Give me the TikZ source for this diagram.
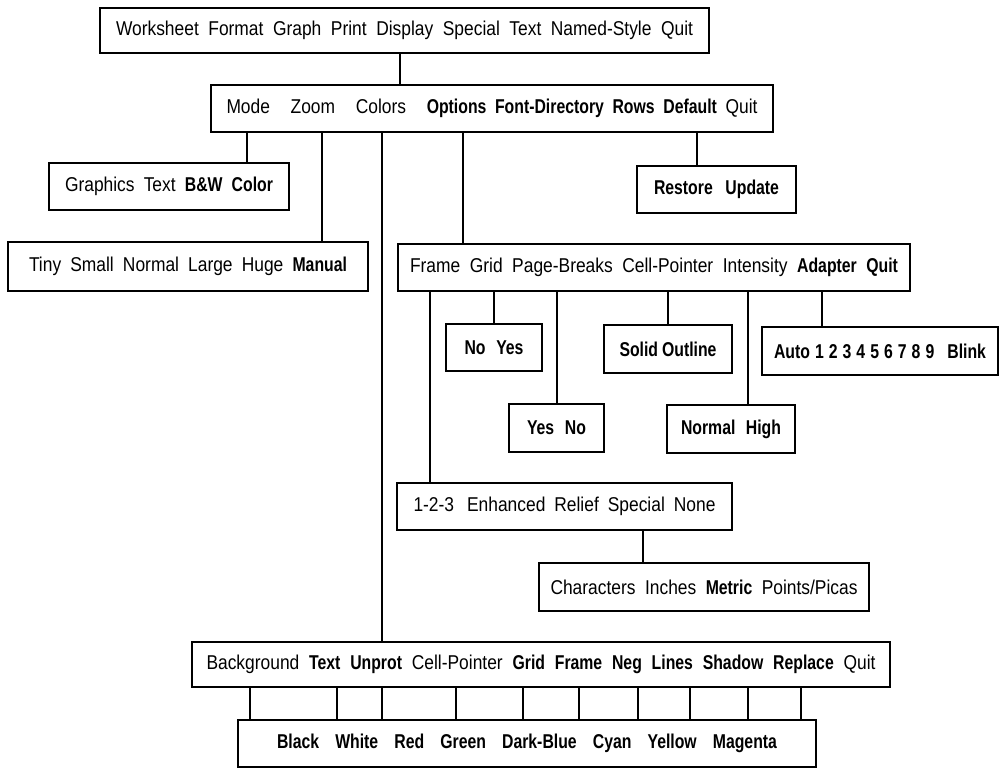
\documentclass[tikz,border=0pt]{standalone}
\usepackage{fontspec}
\setmainfont{Liberation Sans}[FakeStretch=0.87]
\newfontfamily\bfam{Liberation Sans}[FakeStretch=0.79]
\newcommand\B[1]{{\bfam\bfseries #1}}
\newcommand\fit[2]{\makebox[#1pt][s]{#2}}
\begin{document}
\begin{tikzpicture}[x=1pt,y=-1pt,
  mbox/.style={draw=black, line width=1.4pt, inner sep=0pt, fill=white,
    font=\fontsize{20}{23}\selectfont},
  conn/.style={draw=black, line width=1.1pt}]
\useasboundingbox (0,0) rectangle (1000,769);
% boxes
\node[mbox, minimum width=609pt, minimum height=45pt] (top) at (404.5,30.5)
  {\fit{577}{Worksheet Format Graph Print Display Special Text Named-Style Quit}};
\node[mbox, minimum width=562pt, minimum height=47pt] (menu) at (492,108.5)
  {\fit{531}{Mode\hspace{12pt} Zoom\hspace{12pt} Colors\hspace{12pt} \B{Options} \B{Font-Directory} \B{Rows} \B{Default} Quit}};
\node[mbox, minimum width=240pt, minimum height=47pt] (gfx) at (169,186.5)
  {\fit{208}{Graphics Text \B{B\&W} \B{Color}}};
\node[mbox, minimum width=360pt, minimum height=49pt] (tiny) at (188,266.5)
  {\fit{318}{Tiny Small Normal Large Huge \B{Manual}}};
\node[mbox, minimum width=159pt, minimum height=47pt] (restore) at (716.5,189.5)
  {\fit{125}{\B{Restore} \B{Update}}};
\node[mbox, minimum width=512pt, minimum height=47pt] (frame) at (654,267.5)
  {\fit{488}{Frame Grid Page-Breaks Cell-Pointer Intensity \B{Adapter} \B{Quit}}};
\node[mbox, minimum width=96pt, minimum height=47pt] (noyes) at (494,347.5)
  {\fit{59}{\B{No} \B{Yes}}};
\node[mbox, minimum width=95pt, minimum height=48pt] (yesno) at (556.5,428)
  {\fit{59}{\B{Yes} \B{No}}};
\node[mbox, minimum width=128pt, minimum height=48pt] (solid) at (668,349)
  {\fit{97}{\B{Solid} \B{Outline}}};
\node[mbox, minimum width=128pt, minimum height=48pt] (nh) at (731,429)
  {\fit{100}{\B{Normal} \B{High}}};
\node[mbox, minimum width=236pt, minimum height=48pt] (auto) at (880,351)
  {\fit{212}{\B{Auto} \B{1} \B{2} \B{3} \B{4} \B{5} \B{6} \B{7} \B{8} \B{9}\hspace{8pt} \B{Blink}}};
\node[mbox, minimum width=335pt, minimum height=47pt] (relief) at (564.5,506.5)
  {\fit{302}{1-2-3\hspace{4pt} Enhanced Relief Special None}};
\node[mbox, minimum width=330pt, minimum height=48pt] (chars) at (704,587)
  {\fit{307}{Characters Inches \B{Metric} Points/Picas}};
\node[mbox, minimum width=698pt, minimum height=45pt] (bg) at (541,664.5)
  {\fit{669}{Background \B{Text} \B{Unprot} Cell-Pointer \B{Grid} \B{Frame} \B{Neg} \B{Lines} \B{Shadow} \B{Replace} Quit}};
\node[mbox, minimum width=578pt, minimum height=47pt] (colors) at (527,743.5)
  {\fit{500}{\B{Black} \B{White} \B{Red} \B{Green} \B{Dark-Blue} \B{Cyan} \B{Yellow} \B{Magenta}}};
% connectors
\draw[conn] (400,0 |- top.south) -- (400,0 |- menu.north);
\draw[conn] (247,0 |- menu.south) -- (247,0 |- gfx.north);
\draw[conn] (322,0 |- menu.south) -- (322,0 |- tiny.north);
\draw[conn] (382,0 |- menu.south) -- (382,0 |- bg.north);
\draw[conn] (463,0 |- menu.south) -- (463,0 |- frame.north);
\draw[conn] (697,0 |- menu.south) -- (697,0 |- restore.north);
\draw[conn] (430,0 |- frame.south) -- (430,0 |- relief.north);
\draw[conn] (494,0 |- frame.south) -- (494,0 |- noyes.north);
\draw[conn] (557,0 |- frame.south) -- (557,0 |- yesno.north);
\draw[conn] (668,0 |- frame.south) -- (668,0 |- solid.north);
\draw[conn] (748,0 |- frame.south) -- (748,0 |- nh.north);
\draw[conn] (822,0 |- frame.south) -- (822,0 |- auto.north);
\draw[conn] (643,0 |- relief.south) -- (643,0 |- chars.north);
\foreach \xx in {250,337,382,456,523,579,638,690,748,801}
  \draw[conn] (\xx,0 |- bg.south) -- (\xx,0 |- colors.north);
\end{tikzpicture}
\end{document}
